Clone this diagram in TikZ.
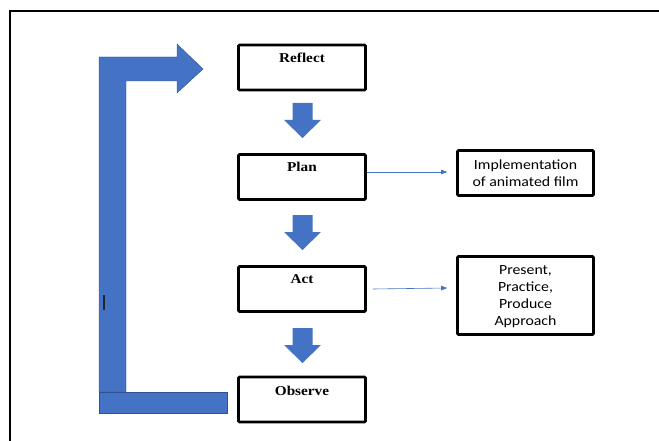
\documentclass[tikz,border=0pt]{standalone}
\usepackage{fontspec}
\setmainfont{Liberation Serif}
\newfontfamily\stagefont[FakeStretch=1.13]{Liberation Serif}
\newfontfamily\calfont[FakeStretch=1.13]{Carlito}
\usetikzlibrary{arrows.meta,calc}
\definecolor{blk}{HTML}{4472C4}
\definecolor{blkedge}{HTML}{2F528F}
\tikzset{
  stagebox/.style={draw=black, line width=2.6pt, rounded corners=1pt, inner sep=0pt,
    minimum width=127pt, minimum height=45pt},
  sidebox/.style={draw=black, line width=2.6pt, rounded corners=1pt, inner sep=0pt,
    minimum width=136pt, align=center},
  stagelbl/.style={font=\stagefont\fontsize{13.5}{15}\selectfont\bfseries, inner sep=0pt},
  sidelbl/.style={font=\calfont\fontsize{14}{17}\selectfont, align=center, inner sep=0pt},
  thinarrow/.style={draw=blk, line width=0.6pt, -{Triangle[length=6pt,width=4.5pt]}},
  blockfill/.style={fill=blk, draw=blkedge, line width=0.4pt},
}
\begin{document}
\begin{tikzpicture}[x=1pt,y=-1pt]
\useasboundingbox (0,0) rectangle (659,441);
% outer frame (open to right and bottom)
\draw[line width=2pt, black] (10,445) -- (10,11) -- (665,11);

% stage boxes
\node[stagebox] (reflect) at (302,67.5) {};
\node[stagebox] (plan) at (302,177) {};
\node[stagebox] (act) at (302,289) {};
\node[stagebox] (observe) at (302,399.5) {};
\node[stagelbl] (reflectT) at ([yshift=-14pt]reflect.north) {Reflect};
\node[stagelbl] (planT) at ([yshift=-14pt]plan.north) {Plan};
\node[stagelbl] (actT) at ([yshift=-14pt]act.north) {Act};
\node[stagelbl] (observeT) at ([yshift=-15pt]observe.north) {Observe};

% side boxes
\node[sidebox, minimum height=45pt] (impl) at (525.5,173) {};
\node[sidelbl] (implT) at (impl.center) {Implementation\\of animated film};
\node[sidebox, minimum height=78pt] (ppp) at (525.5,295.5) {};
\node[sidelbl] (pppT) at ([yshift=-1pt]ppp.center) {Present,\\Practice,\\Produce\\Approach};

% thin connectors
\draw[thinarrow] ([yshift=5pt]plan.east) -- ([xshift=-9pt,yshift=1pt]impl.west);
\draw[thinarrow] ([xshift=6pt]act.east) -- ([xshift=-9pt,yshift=7.5pt]ppp.west);

% block down arrows
\foreach \t in {103,215,328}{
  \fill[blk] (292.5,\t) -- (312.5,\t) -- (312.5,\t+17) -- (321,\t+17) -- (302.5,\t+35)
    -- (284,\t+17) -- (292.5,\t+17) -- cycle;
}

% feedback L arrow
\path[blockfill] (99,57) -- (177,57) -- (177,44) -- (203,69) -- (177,93) -- (177,81)
  -- (126,81) -- (126,392) -- (99,392) -- cycle;
\path[blockfill] (99,392) rectangle (227,413);

% stray tick
\draw[line width=1.2pt, black!85] (104,295) -- (104,310);
\end{tikzpicture}
\end{document}
